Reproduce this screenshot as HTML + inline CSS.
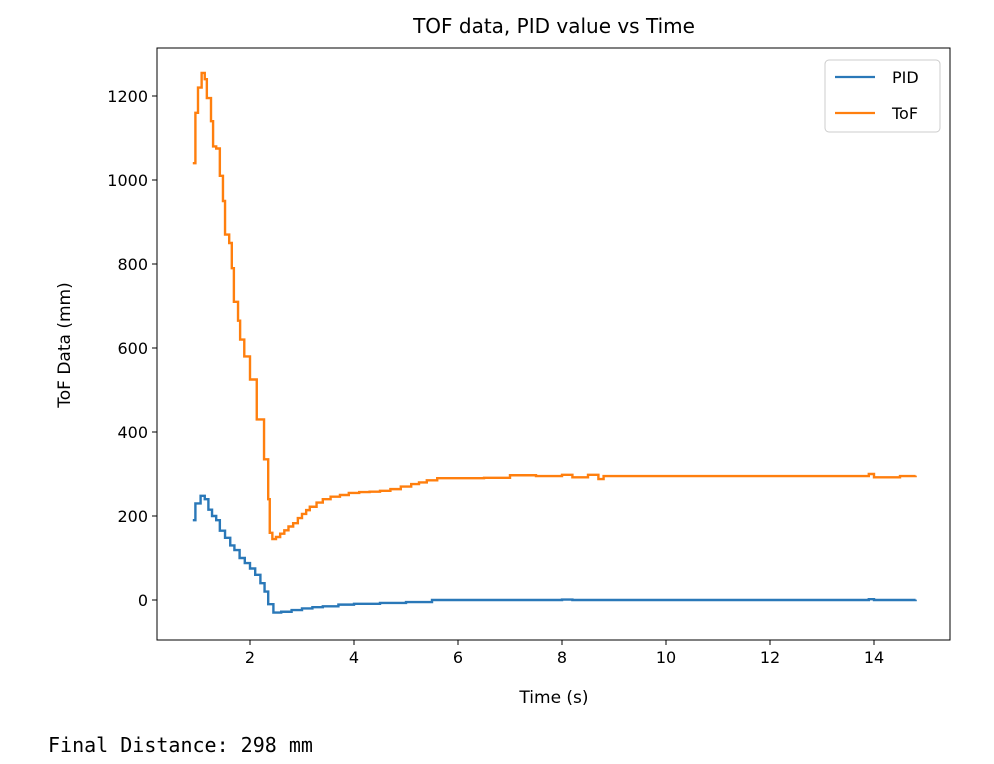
<!DOCTYPE html>
<html><head><meta charset="utf-8"><style>
body{margin:0;background:#fff;width:994px;height:764px;overflow:hidden;font-family:"DejaVu Sans","Liberation Sans",sans-serif}
#out{position:absolute;left:48px;top:733px;font-family:"DejaVu Sans Mono","Liberation Mono",monospace;font-size:20px;color:#000}
</style></head><body>
<svg id="chart" width="994" height="720" style="position:absolute;left:0;top:0"></svg>
<div id="out">Final Distance: 298 mm</div>
<script>
const tofT=[0.90,0.95,1.00,1.07,1.13,1.17,1.25,1.29,1.35,1.42,1.48,1.52,1.60,1.65,1.69,1.77,1.81,1.89,2.00,2.13,2.27,2.35,2.38,2.43,2.50,2.58,2.66,2.74,2.83,2.92,3.00,3.08,3.15,3.28,3.40,3.55,3.73,3.90,4.10,4.30,4.50,4.70,4.90,5.10,5.25,5.40,5.60,6.00,6.50,7.00,7.50,8.00,8.20,8.50,8.70,8.80,10.0,12.0,13.5,13.9,14.0,14.5,14.8];
const tofV=[1040,1160,1220,1255,1240,1195,1140,1080,1075,1010,950,870,850,790,710,665,620,580,525,430,335,240,160,145,150,158,166,175,183,195,205,214,222,232,240,246,250,255,257,258,260,264,270,276,280,285,290,290,291,297,295,298,292,298,288,295,295,295,295,300,292,295,296];
const pidT=[0.90,0.95,1.05,1.13,1.20,1.27,1.35,1.42,1.52,1.62,1.70,1.80,1.90,2.00,2.10,2.20,2.28,2.35,2.45,2.60,2.80,3.00,3.20,3.40,3.70,4.00,4.50,5.00,5.50,8.00,8.20,13.9,14.0,14.8];
const pidV=[190,230,248,240,215,200,190,165,148,130,119,100,88,75,60,40,20,-10,-30,-28,-24,-20,-17,-15,-11,-9,-7,-5,0,1,0,2,0,1];
const xTicks=[2,4,6,8,10,12,14];
const yTicks=[0,200,400,600,800,1000,1200];
const L=157,R=950,T=48,B=640;
const X=t=>146+t*52, Y=v=>600-v*0.42;
const svg=document.getElementById('chart');const NS='http://www.w3.org/2000/svg';
function mk(tag,a,p){const e=document.createElementNS(NS,tag);for(const k in a)e.setAttribute(k,a[k]);(p||svg).appendChild(e);return e;}
function stepPath(ts,vs){let d='M'+X(ts[0])+','+Y(vs[0]);for(let i=1;i<ts.length;i++){d+=' H'+X(ts[i])+' V'+Y(vs[i]);}return d;}
const t=mk('text',{x:554,y:33,'text-anchor':'middle','font-size':20,fill:'#000'});t.textContent='TOF data, PID value vs Time';


const frame=mk('rect',{x:L,y:T,width:R-L,height:B-T,fill:'none',stroke:'#000','stroke-width':1});


xTicks.forEach(v=>{mk('line',{x1:X(v),x2:X(v),y1:B,y2:B+5,stroke:'#000'});const e=mk('text',{x:X(v),y:B+23,'text-anchor':'middle','font-size':16});e.textContent=v;

});
yTicks.forEach(v=>{mk('line',{x1:L-5,x2:L,y1:Y(v),y2:Y(v),stroke:'#000'});const e=mk('text',{x:L-9,y:Y(v)+6,'text-anchor':'end','font-size':16});e.textContent=v;

});
const xl=mk('text',{x:554,y:703,'text-anchor':'middle','font-size':17});xl.textContent='Time (s)';


const yl=mk('text',{x:70,y:345,'text-anchor':'middle','font-size':17,transform:'rotate(-90 70 345)'});yl.textContent='ToF Data (mm)';


const p1=mk('path',{d:stepPath(pidT,pidV),fill:'none',stroke:'#2a78b8','stroke-width':2.4});


const p2=mk('path',{d:stepPath(tofT,tofV),fill:'none',stroke:'#ff7f0e','stroke-width':2.4});


const lg=mk('g',{});


mk('rect',{x:825,y:60,width:115,height:72,rx:4,fill:'#fff',stroke:'#ccc'},lg);
[['PID','#2a78b8',77],['ToF','#ff7f0e',113]].forEach(([n,c,y])=>{mk('line',{x1:835,x2:875,y1:y,y2:y,stroke:c,'stroke-width':2.2},lg);const e=mk('text',{x:892,y:y+6,'font-size':16},lg);e.textContent=n;

});
</script>
</body></html>
